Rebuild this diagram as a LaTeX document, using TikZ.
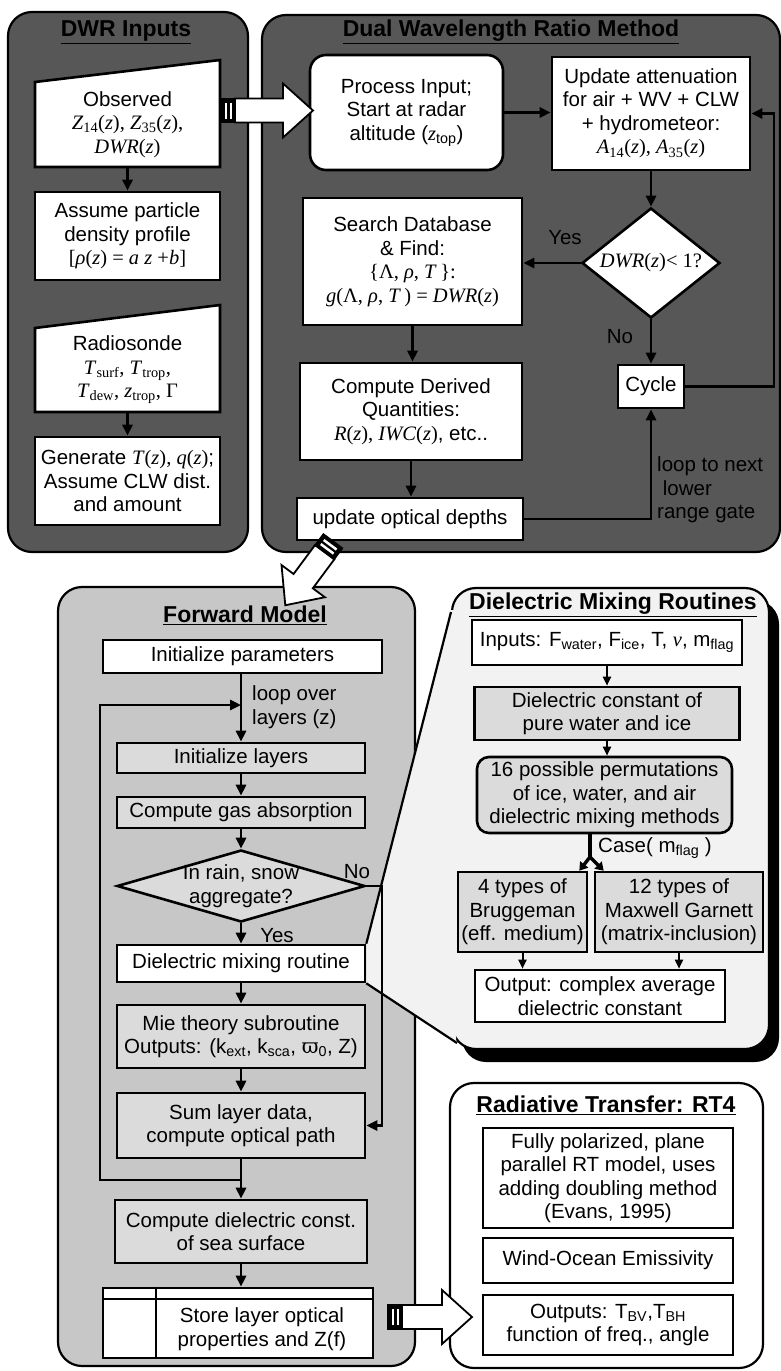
\documentclass[tikz,border=0pt]{standalone}
\usepackage{fontspec}
\setmainfont{Liberation Sans}
\newfontfamily\tms{Liberation Serif}
\newfontfamily\dvs{DejaVu Serif}
\usetikzlibrary{arrows.meta,shapes.geometric,calc}
\newcommand{\tm}[1]{{\tms #1}}
\newcommand{\fsz}{\fontsize{20.5}{23.5}\selectfont}
\newcommand{\tsz}{\fontsize{23}{26}\selectfont\bfseries}
\colorlet{darkpanel}{black!66}
\colorlet{fmfill}{black!22}
\colorlet{graybox}{black!14}
\colorlet{dmrfill}{black!5}
% striped block arrow: #1 start, #2 angle, #3 length
\newcommand{\blkarrow}[3]{%
  \begin{scope}[shift={#1}, rotate=#2]
    \filldraw[fill=white, line width=1.8pt, line join=miter] (14,-12) -- ({#3-30},-12) -- ({#3-30},-27) -- (#3,0) -- ({#3-30},27) -- ({#3-30},12) -- (14,12) -- cycle;
    \filldraw[line width=1.2pt] (0,-12) rectangle (14,12);
    \fill[white] (3.5,-8) rectangle (6,8);
    \fill[white] (8.5,-8) rectangle (11,8);
  \end{scope}}
\begin{document}
\begin{tikzpicture}[x=1pt,y=-1pt,
  box/.style={draw, line width=2.6pt, fill=white, inner sep=0pt, align=center, font=\fsz},
  gbox/.style={box, fill=graybox},
  txt/.style={inner sep=0pt, align=center, font=\fsz},
  ttl/.style={inner sep=0pt, font=\tsz},
  panel/.style={draw, line width=2.2pt, rounded corners=24pt},
  conn/.style={line width=2.6pt, -{Triangle[length=11pt,width=10pt]}},
  sconn/.style={line width=2pt, -{Triangle[length=9pt,width=8pt]}},
  thk/.style={line width=2.6pt}]
\useasboundingbox (0,0) rectangle (781,1371);

% ---------------- panels ----------------
\draw[panel, fill=darkpanel] (8,12) rectangle (248,552);
\draw[panel, fill=darkpanel] (262,15) rectangle (780,552);
\draw[panel, fill=fmfill] (58,587) rectangle (415,1366);
\fill[black, rounded corners=24pt] (462,600) rectangle (779,1062);
\draw[panel, fill=dmrfill] (452,588) rectangle (769,1049);
\draw[panel, fill=white] (450,1083) rectangle (763,1368);

\node[ttl] (t1) at (126,32) {\underline{DWR Inputs}};
\node[ttl] (t2) at (511,32) {\underline{Dual Wavelength Ratio Method}};
\node[ttl] (t3) at (245,615) {\underline{Forward Model}};
\node[ttl] (t4) at (613,605) {\underline{Dielectric Mixing Routines}};
\node[ttl] (t5) at (606,1105) {\underline{Radiative Transfer: RT4}};

% ---------------- DWR inputs ----------------
\filldraw[fill=white, line width=2.6pt] (35,167) -- (220,167) -- (220,60) -- (35,82) -- cycle;
\node[txt, minimum width=185pt, minimum height=85pt] (obs) at (127.5,124.5)
  {Observed\\\tm{\textit{Z}\textsubscript{14}(\textit{z}), \textit{Z}\textsubscript{35}(\textit{z}),}\\\tm{\textit{DWR}(\textit{z})}};
\node[box, minimum width=185pt, minimum height=88pt] (assume) at (127.5,236)
  {Assume particle\\density profile\\\tm{[\textit{ρ}(\textit{z}) = \textit{a z} +\textit{b}]}};
\filldraw[fill=white, line width=2.6pt] (35,412) -- (220,412) -- (220,305) -- (35,328) -- cycle;
\node[txt, minimum width=185pt, minimum height=84pt] (rad) at (127.5,370)
  {Radiosonde\\\tm{\textit{T}\textsubscript{surf}, \textit{T}\textsubscript{trop},}\\\tm{\textit{T}\textsubscript{dew}, \textit{z}\textsubscript{trop}, Γ}};
\node[box, minimum width=185pt, minimum height=88pt] (gen) at (127.5,481)
  {Generate \tm{\textit{T}(\textit{z}), \textit{q}(\textit{z})};\\Assume CLW dist.\\and amount};
\draw[conn] (obs.south) -- (assume.north);
\draw[conn] (rad.south) -- (gen.north);

% ---------------- DWR method ----------------
\node[box, rounded corners=16pt, minimum width=193pt, minimum height=115pt] (proc) at (406.5,112.5)
  {Process Input;\\Start at radar\\altitude ({\tms\itshape z}\textsubscript{top})};
\node[box, minimum width=198pt, minimum height=113pt] (upd) at (651,113.5)
  {Update attenuation\\for air + WV + CLW\\+ hydrometeor:\\\tm{\textit{A}\textsubscript{14}(\textit{z}), \textit{A}\textsubscript{35}(\textit{z})}};
\node[diamond, draw, line width=2.6pt, fill=white, minimum width=138pt, minimum height=110pt, inner sep=0pt] (dwrd) at (651,263) {};
\node[txt] (dwrt) at (dwrd) {\tm{\textit{DWR}(\textit{z})< 1?}};
\node[box, minimum width=219pt, minimum height=127pt] (search) at (412.5,261.5)
  {Search Database\\\& Find:\\\tm{\{Λ, \textit{ρ}, \textit{T}\,\}:}\\\tm{\textit{g}(Λ, \textit{ρ}, \textit{T}\,) = \textit{DWR}(\textit{z})}};
\node[box, minimum width=66pt, minimum height=43pt] (cycle) at (651,386.5) {Cycle};
\node[box, minimum width=222pt, minimum height=97pt] (derived) at (411,411.5)
  {Compute Derived\\Quantities:\\\tm{\textit{R}(\textit{z}), \textit{IWC}(\textit{z})}, etc..};
\node[box, minimum width=226pt, minimum height=42pt] (uod) at (410,519) {update optical depths};
\coordinate (rx) at (774,300);
\draw[conn] (proc.east) -- (proc.east -| upd.west);
\draw[conn] (upd.south) -- (dwrd.north);
\draw[conn] (dwrd.west) -- (dwrd.west -| search.east);
\draw[conn] (dwrd.south) -- (cycle.north);
\draw[conn] (search.south) -- (search.south |- derived.north);
\draw[conn] (derived.south) -- (derived.south |- uod.north);
\draw[conn] (uod.east) -- (uod.east -| cycle.south) -- (cycle.south);
\draw[conn] (cycle.east) -- (cycle.east -| rx) |- (upd.east);
\node[txt] (yes1) at (565,238) {Yes};
\node[txt] (no1) at (620,337) {No};
\node[txt, anchor=west, align=left] (loopt) at (657,490) {loop to next\\\ lower\\range gate};

% ---------------- Forward model ----------------
\node[box, minimum width=279pt, minimum height=33pt] (ip) at (242.5,656.5) {Initialize parameters};
\node[gbox, minimum width=248pt, minimum height=30pt] (il) at (241,758) {Initialize layers};
\node[gbox, minimum width=248pt, minimum height=31pt] (cg) at (241,812.5) {Compute gas absorption};
\node[diamond, draw, line width=2.6pt, fill=graybox, minimum width=248pt, minimum height=72pt, inner sep=0pt] (fmd) at (241,886) {};
\node[txt] (fmdt) at (fmd) {In rain, snow\\aggregate?};
\node[box, minimum width=248pt, minimum height=37pt] (dm) at (241,963.5) {Dielectric mixing routine};
\node[gbox, minimum width=248pt, minimum height=63pt] (mie) at (241,1036.5)
  {Mie theory subroutine\\Outputs: (k\textsubscript{ext}, k\textsubscript{sca}, {\dvs ϖ}\textsubscript{0}, Z)};
\node[gbox, minimum width=248pt, minimum height=65pt] (sum) at (241,1125.5) {Sum layer data,\\compute optical path};
\node[gbox, minimum width=252pt, minimum height=63pt] (cd) at (241,1231.5) {Compute dielectric const.\\of sea surface};
\node[box, minimum width=270pt, minimum height=70pt] (store) at (238,1323) {};
\draw[line width=2pt] ($(store.north west)+(0,12)$) -- ($(store.north east)+(0,12)$);
\draw[line width=2pt] ($(store.north west)+(54,0)$) -- ($(store.south west)+(54,0)$);
\node[txt] (storet) at (262,1329) {Store layer optical\\properties and Z(f)};

% callout of the dielectric mixing panel
\fill[dmrfill] (450,610) -- (dm.north east) -- (dm.south east) -- (456,1044) -- (456,610) -- cycle;
\draw[line width=2.2pt] (451,612) -- (dm.north east);
\draw[line width=2.2pt] (dm.south east) -- (457,1043);

\coordinate (lpb) at (100,1180);
\coordinate (lpt) at (100,705);
\coordinate (nx) at (382,900);
\draw[conn] (ip.south -| il.north) -- (il.north);
\draw[conn] (il.south) -- (cg.north);
\draw[conn] (cg.south) -- (fmd.north);
\draw[conn] (fmd.south) -- (dm.north);
\draw[conn] (dm.south) -- (mie.north);
\draw[conn] (mie.south) -- (sum.north);
\draw[conn] (sum.south) -- (cd.north);
\draw[conn] (cd.south) -- (cd.south |- store.north);
\draw[conn] (sum.south |- lpb) -- (lpb) -- (lpt) -- (lpt -| il.north);
\draw[conn] (fmd.east) -- (fmd.east -| nx) |- (sum.east);
\node[txt, anchor=west, align=left] (loopz) at (252,707) {loop over\\layers (z)};
\node[txt] (no2) at (357,872) {No};
\node[txt] (yes2) at (277,936) {Yes};

% ---------------- Dielectric mixing routines ----------------
\node[box, minimum width=270pt, minimum height=45pt] (inp) at (607,642.5)
  {Inputs: F\textsubscript{water}, F\textsubscript{ice}, T, {\tms\itshape ν}, m\textsubscript{flag}};
\node[gbox, minimum width=265pt, minimum height=53pt] (dc) at (607,713.5) {Dielectric constant of\\pure water and ice};
\node[gbox, rounded corners=12pt, minimum width=255pt, minimum height=76pt] (perm) at (604.5,795)
  {16 possible permutations\\of ice, water, and air\\dielectric mixing methods};
\node[gbox, minimum width=129pt, minimum height=80pt] (brug) at (522.5,912) {4 types of\\Bruggeman\\(eff. medium)};
\node[gbox, minimum width=168pt, minimum height=80pt] (maxw) at (679,912) {12 types of\\Maxwell Garnett\\(matrix-inclusion)};
\node[box, minimum width=250pt, minimum height=52pt] (out) at (600,996) {Output: complex average\\dielectric constant};
\coordinate (fk) at (590,857);
\draw[sconn] (inp.south) -- (inp.south |- dc.north);
\draw[sconn] (dc.south) -- (dc.south |- perm.north);
\draw[line width=4pt] (perm.south -| fk) -- (fk);
\draw[line width=3.4pt, -{Triangle[length=8pt,width=10pt]}] (fk) -- ($(brug.north east)+(-9,0)$);
\draw[line width=3.4pt, -{Triangle[length=8pt,width=10pt]}] (fk) -- ($(maxw.north west)+(10,0)$);
\node[txt, anchor=west] (case) at (598,848) {Case( m\textsubscript{flag} )};
\draw[sconn] (brug.south) -- (brug.south |- out.north);
\draw[sconn] (maxw.south) -- (maxw.south |- out.north);

% ---------------- RT4 ----------------
\node[box, minimum width=250pt, minimum height=100pt] (fp) at (608,1178)
  {Fully polarized, plane\\parallel RT model, uses\\adding doubling method\\(Evans, 1995)};
\node[box, minimum width=250pt, minimum height=45pt] (wo) at (608,1260.5) {Wind-Ocean Emissivity};
\node[box, minimum width=250pt, minimum height=60pt] (outp) at (608,1325)
  {Outputs: T\textsubscript{BV},T\textsubscript{BH}\\function of freq., angle};

% ---------------- block arrows ----------------
\blkarrow{(221,110.5)}{0}{92}
\blkarrow{(333,541)}{233.4}{80}
\blkarrow{(388,1317)}{0}{84}
\end{tikzpicture}
\end{document}
